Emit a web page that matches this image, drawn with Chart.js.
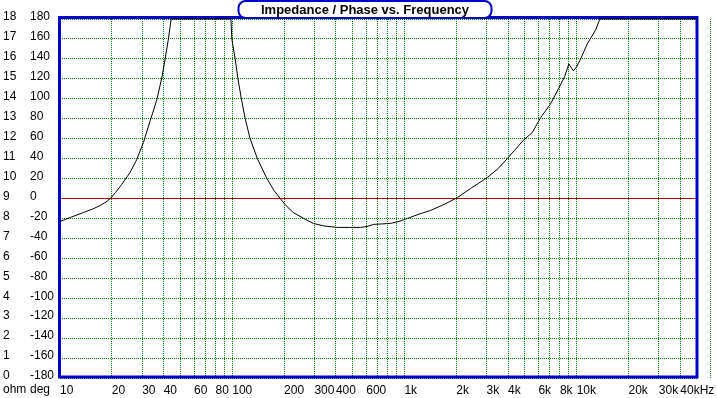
<!DOCTYPE html>
<html>
<head>
<meta charset="utf-8">
<script src="https://cdn.jsdelivr.net/npm/chart.js@4/dist/chart.umd.min.js"></script>
<style>
  html, body { margin: 0; padding: 0; background: #fff; }
  #wrap { width: 717px; height: 398px; }
</style>
</head>
<body>
<div id="wrap"><canvas id="impChart" width="717" height="398"></canvas></div>
<script>
// phase curve (clipped at +180 like the original plot)
const freqHz = [10, 11.5, 13.7, 15.5, 17.1, 18.5, 19.6, 21, 22.8, 25.5, 27.9, 30.5, 33.4, 36.5, 39, 40.8, 42.6, 44.2,
  60, 80, 98.3, 99.5, 104, 108, 113, 119, 127, 140, 159, 175, 190, 205, 226, 260, 296, 340, 408, 480, 555,
  609, 660, 740, 829, 930, 1041, 1200, 1416, 1700, 2032, 2420, 3027, 3500, 3955, 4943, 5522, 6174, 7064,
  7895, 8500, 9020, 9570, 10000, 10550, 11530, 12890, 13650, 20000, 50000];
const phaseDeg = [-23, -19, -14, -10.5, -7, -3.5, 0, 6, 14, 26, 39, 56, 78, 99, 121, 140, 160, 180,
  180, 180, 180, 160, 140, 120, 100, 80, 60, 40, 20, 8, 0, -7, -14, -20, -25, -27.5, -29, -29, -29,
  -28, -26, -25.5, -25, -23, -20, -16, -12, -6, 1, 10, 21, 30, 40, 59, 66, 81, 95,
  111, 122, 135, 128, 132, 140, 155, 169, 180, 180, 180];

const xTickValues = [10, 20, 30, 40, 60, 80, 100, 200, 300, 400, 600, 1000, 2000, 3000, 4000, 6000, 8000, 10000, 20000, 30000, 40000];
const xTickLabels = ['10', '20', '30', '40', '60', '80', '100', '200', '300', '400', '600', '1k', '2k', '3k', '4k', '6k', '8k', '10k', '20k', '30k', '40kHz'];

const titleText = 'Impedance / Phase vs. Frequency';
const BLUE = '#0000C8';
const GREEN = '#008000';
const RED = '#B40000';

// grid lines at every 1..9 x decade step
const gridFreqs = [];
for (let d = 10; d <= 10000; d *= 10) {
  for (let m = 1; m <= 9; m++) gridFreqs.push(m * d);
}
gridFreqs.push(50000);

Chart.defaults.font.family = '"Liberation Sans", Arial, sans-serif';
Chart.defaults.font.size = 12;
Chart.defaults.color = '#000';

const framePlugin = {
  id: 'frame',
  beforeDatasetsDraw(chart) {
    const { ctx, chartArea: a } = chart;
    ctx.save();
    ctx.strokeStyle = BLUE;
    ctx.lineWidth = 3;
    ctx.strokeRect(a.left - 0.5, a.top - 1.5, a.right - a.left + 0.5, a.bottom - a.top + 0.5);
    ctx.restore();
  },
  afterDraw(chart) {
    const { ctx } = chart;
    ctx.save();
    // title box
    ctx.beginPath();
    ctx.roundRect(238.5, 1, 253, 17, 7);
    ctx.fillStyle = '#fff';
    ctx.fill();
    ctx.strokeStyle = BLUE;
    ctx.lineWidth = 2;
    ctx.stroke();
    ctx.fillStyle = '#000';
    ctx.font = 'bold 13px "Liberation Sans", Arial, sans-serif';
    ctx.textAlign = 'center';
    ctx.textBaseline = 'middle';
    ctx.fillText(titleText, 365, 10);
    // unit captions
    ctx.font = '12px "Liberation Sans", Arial, sans-serif';
    ctx.textAlign = 'left';
    ctx.fillText('ohm', 3, 390);
    ctx.fillText('deg', 30, 390);
    ctx.restore();
  }
};

new Chart(document.getElementById('impChart'), {
  type: 'line',
  data: {
    datasets: [{
      data: freqHz.map((f, i) => ({ x: f, y: phaseDeg[i] })),
      borderColor: '#000',
      borderWidth: 1,
      pointRadius: 0,
      tension: 0,
      clip: false,
      yAxisID: 'y'
    }]
  },
  options: {
    responsive: false,
    animation: false,
    events: [],
    layout: { padding: { left: 3, top: 19, right: 20, bottom: 0 } },
    plugins: { legend: { display: false }, tooltip: { enabled: false }, title: { display: false } },
    scales: {
      x: {
        type: 'logarithmic',
        min: 10,
        max: 50000,
        afterBuildTicks: (scale) => { scale.ticks = gridFreqs.map(v => ({ value: v })); },
        afterFit: (scale) => { scale.height = 20; },
        ticks: {
          autoSkip: false,
          maxRotation: 0,
          align: 'start',
          padding: 5,
          callback: (v) => {
            const i = xTickValues.indexOf(v);
            return i >= 0 ? xTickLabels[i] : '';
          }
        },
        grid: { color: GREEN, lineWidth: 1, drawTicks: false },
        border: { display: false, dash: [1, 1] }
      },
      ohm: {
        type: 'linear',
        position: 'left',
        weight: 1,
        min: 0,
        max: 18,
        afterFit: (scale) => { scale.width = 27; },
        ticks: { stepSize: 1, crossAlign: 'far', labelOffset: -2 },
        grid: { display: false, drawTicks: false },
        border: { display: false }
      },
      y: {
        type: 'linear',
        position: 'left',
        weight: 0,
        min: -180,
        max: 180,
        afterFit: (scale) => { scale.width = 30; },
        ticks: { stepSize: 20, crossAlign: 'far', labelOffset: -2 },
        grid: {
          color: (c) => (c.tick && c.tick.value === 0 ? RED : GREEN),
          lineWidth: 1,
          drawTicks: false
        },
        border: {
          display: false,
          dash: (c) => (c.tick && c.tick.value === 0 ? [] : [1, 1])
        }
      }
    }
  },
  plugins: [framePlugin]
});
</script>
</body>
</html>
